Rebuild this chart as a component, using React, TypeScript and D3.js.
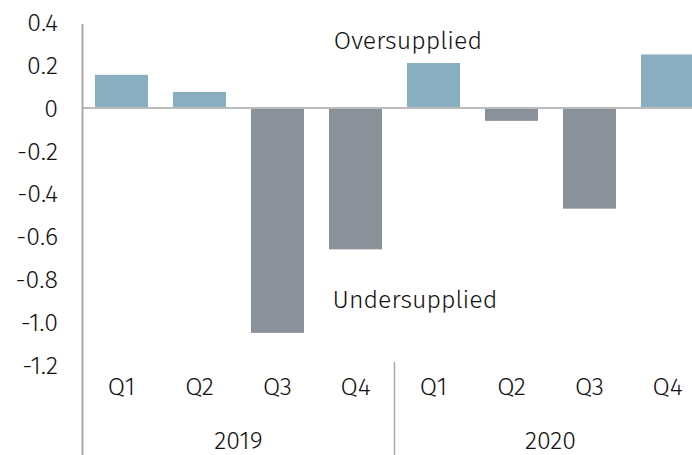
import React from 'react'
import * as d3 from 'd3'

const quarters = ['Q1', 'Q2', 'Q3', 'Q4', 'Q1', 'Q2', 'Q3', 'Q4']
const years = ['2019', '2020']
const values = [0.155, 0.075, -1.05, -0.66, 0.21, -0.06, -0.47, 0.25]
const yTicks = [0.4, 0.2, 0, -0.2, -0.4, -0.6, -0.8, -1.0, -1.2]
const yTickLabels = ['0.4', '0.2', '0', '-0.2', '-0.4', '-0.6', '-0.8', '-1.0', '-1.2']

const W = 692
const H = 455
const font = "'Fira Sans', 'Open Sans', 'Noto Sans', sans-serif"

export default function App () {
  const y = d3.scaleLinear().domain([0, -1.2]).range([108, 365])
  const x = d3.scaleBand<number>()
    .domain(d3.range(quarters.length))
    .range([82.5, 706.5])
    .paddingInner(0.32)
    .paddingOuter(0.16)
  const step = x.step()
  const x0 = 82.5

  return (
    <svg width={W} height={H} style={{position: 'absolute', left: 0, top: 0, fontFamily: font, fontWeight: 300}}>
      <rect width={W} height={H} fill='#fff' />
      {values.map((v, i) => (
        <rect key={i}
          x={x(i)} width={x.bandwidth()}
          y={Math.min(y(v), y(0))} height={Math.abs(y(v) - y(0))}
          fill={v >= 0 ? '#88aebf' : '#8a9199'} />
      ))}
      <line x1={x0} x2={W} y1={y(0)} y2={y(0)} stroke='#bbbbbb' strokeWidth={2} />
      <line x1={x0} x2={x0} y1={24} y2={H} stroke='#aaaaaa' strokeWidth={2} />
      {years.slice(1).map((yr, i) => (
        <line key={yr} x1={x0 + (i + 1) * 4 * step} x2={x0 + (i + 1) * 4 * step}
          y1={362} y2={H} stroke='#aaaaaa' strokeWidth={1.5} />
      ))}
      {yTicks.map((t, i) => (
        <text key={i} x={58} y={y(t)} dy='0.35em' textAnchor='end' fontSize={25} fill='#111'>
          {yTickLabels[i]}
        </text>
      ))}
      {quarters.map((q, i) => (
        <text key={i} x={(x(i) as number) + x.bandwidth() / 2} y={395} textAnchor='middle' fontSize={25} fill='#111'>{q}</text>
      ))}
      {years.map((yr, i) => (
        <text key={yr} x={x0 + (i * 4 + 2) * step} y={449} textAnchor='middle' fontSize={25} fill='#111'>{yr}</text>
      ))}
      <text x={408} y={49} textAnchor='middle' fontSize={25} fill='#111'>Oversupplied</text>
      <text x={415} y={308} textAnchor='middle' fontSize={25} fill='#111'>Undersupplied</text>
    </svg>
  )
}
